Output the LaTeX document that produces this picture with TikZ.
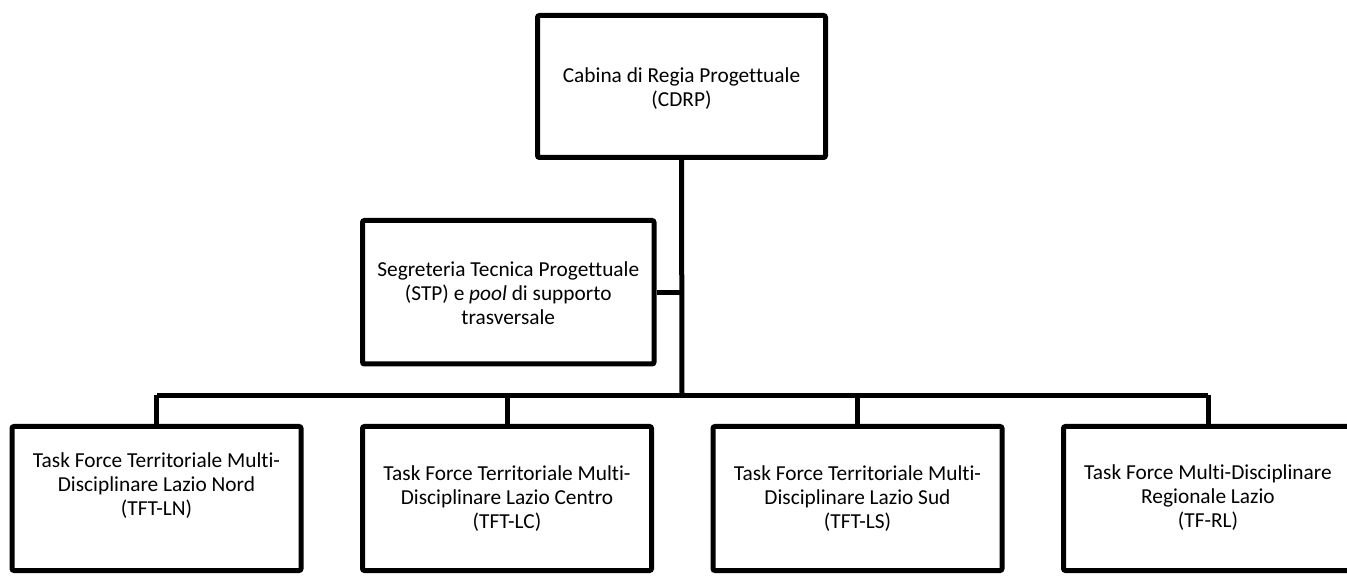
\documentclass[tikz,border=0pt]{standalone}
\usepackage{fontspec}
\setmainfont{Carlito}[Ligatures=NoCommon]
\begin{document}
\begin{tikzpicture}[x=0.75pt,y=-0.75pt,
  orgbox/.style={draw=black, line width=3.75pt, rounded corners=1.5pt, fill=white,
    minimum width=289*0.75pt, minimum height=144*0.75pt, inner sep=0pt},
  boxtext/.style={align=center, inner sep=0pt, font=\fontsize{16}{18}\selectfont},
  link/.style={draw=black, line width=3.75pt}]
\useasboundingbox (0,0) rectangle (1347,577);
\node[orgbox, minimum width=288*0.75pt, minimum height=142*0.75pt] (cdrp) at (681.5,86.5) {};
\node[boxtext] (cdrpt) at (681.5,89) {Cabina di Regia Progettuale\\(CDRP)};
\node[orgbox, minimum width=291.5*0.75pt, minimum height=143.5*0.75pt] (stp) at (508.25,292.25) {};
\node[boxtext] (stpt) at (508.25,293.5) {Segreteria Tecnica Progettuale\\(STP) e \textit{pool} di supporto\\trasversale};
\node[orgbox] (b1) at (156.5,498.5) {};
\node[boxtext] (t1) at (156.5,486) {Task Force Territoriale Multi-\\Disciplinare Lazio Nord\\(TFT-LN)};
\node[orgbox] (b2) at (507,498.5) {};
\node[boxtext] (t2) at (507,498.5) {Task Force Territoriale Multi-\\Disciplinare Lazio Centro\\(TFT-LC)};
\node[orgbox] (b3) at (857.5,498.5) {};
\node[boxtext] (t3) at (857.5,498.5) {Task Force Territoriale Multi-\\Disciplinare Lazio Sud\\(TFT-LS)};
\node[orgbox] (b4) at (1208,498.5) {};
\node[boxtext] (t4) at (1208,497.5) {Task Force Multi-Disciplinare\\Regionale Lazio\\(TF-RL)};
\coordinate (bus) at (682,395.5);
\coordinate (busL) at (156.5,395.5);
\coordinate (busR) at (1208,395.5);
\draw[link] (cdrp.south) -- (bus);
\draw[link] (stp.east) -- (stp.east -| bus);
\draw[link] (busL) -- (busR);
\draw[link] (b1.north) -- (busL);
\draw[link] (b2.north) -- (b2.north |- bus);
\draw[link] (b3.north) -- (b3.north |- bus);
\draw[link] (b4.north) -- (busR);
\end{tikzpicture}
\end{document}
